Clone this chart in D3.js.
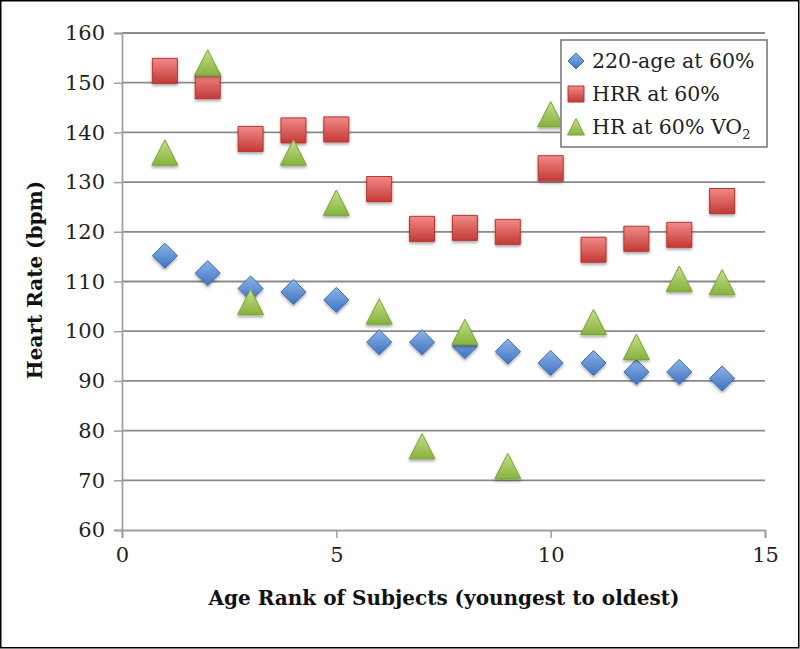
<!DOCTYPE html>
<html><head><meta charset="utf-8">
<script src="https://cdn.jsdelivr.net/npm/d3@7"></script>
<style>
html,body{margin:0;padding:0;background:#fff;}
svg{display:block;}
text{font-family:"DejaVu Serif","Liberation Serif",serif;}
</style></head>
<body>
<svg id="chart" width="800" height="649"></svg>
<script>
const ranks = [1,2,3,4,5,6,7,8,9,10,11,12,13,14];
const ageFormula = [115.2,111.7,108.6,107.9,106.3,97.8,97.8,97.0,95.9,93.6,93.6,91.8,91.8,90.5];
const hrr = [152.4,149.3,138.7,140.4,140.6,128.6,120.6,120.8,120.0,132.8,116.4,118.6,119.4,126.2];
const vo2 = [135.9,154.0,105.8,135.9,125.8,103.9,76.8,99.8,72.8,143.6,101.8,96.8,110.5,109.8];
const xTicks = [0,5,10,15];
const yTicks = [60,70,80,90,100,110,120,130,140,150,160];
const seriesNames = ["220-age at 60%","HRR at 60%","HR at 60% VO"];

const svg = d3.select("#chart");
const W = 800, H = 649;
const m = {left:122, right:765, top:33, bottom:530};

svg.append("rect").attr("x",0.75).attr("y",0.75).attr("width",W-2).attr("height",H-2)
  .attr("fill","#fff").attr("stroke","#000").attr("stroke-width",1.5);

const defs = svg.append("defs");
function grad(id, c1, c2){
  const g = defs.append("linearGradient").attr("id",id).attr("x1",0).attr("y1",0).attr("x2",0).attr("y2",1);
  g.append("stop").attr("offset","0%").attr("stop-color",c1);
  g.append("stop").attr("offset","100%").attr("stop-color",c2);
}
grad("gBlue","#8db3e8","#3f74c0");
grad("gRed","#f08a87","#c43a36");
grad("gGreen","#c4e08a","#86b23c");
const f = defs.append("filter").attr("id","shadow").attr("x","-50%").attr("y","-50%").attr("width","200%").attr("height","200%");
f.append("feDropShadow").attr("dx",0).attr("dy",2).attr("stdDeviation",1.5).attr("flood-color","#000").attr("flood-opacity",0.35);

const x = d3.scaleLinear().domain([0,15]).range([m.left,m.right]);
const y = d3.scaleLinear().domain([60,160]).range([m.bottom,m.top]);

// gridlines
svg.append("g").selectAll("line").data(yTicks.filter(d=>d>60)).join("line")
  .attr("x1",m.left).attr("x2",m.right).attr("y1",d=>y(d)).attr("y2",d=>y(d))
  .attr("stroke","#8a8a8a").attr("stroke-width",1.8);

// y axis
const yAxis = svg.append("g").attr("transform",`translate(${m.left},0)`)
  .call(d3.axisLeft(y).tickValues(yTicks).tickSize(8).tickPadding(9));
yAxis.select(".domain").attr("stroke","#a0a0a0").attr("stroke-width",1.8);
yAxis.selectAll(".tick line").attr("stroke","#a0a0a0").attr("stroke-width",1.5);
yAxis.selectAll("text").attr("font-size",21).attr("fill","#222").style("font-family","DejaVu Serif");

// x axis
const xAxis = svg.append("g").attr("transform",`translate(0,${m.bottom})`)
  .call(d3.axisBottom(x).tickValues(xTicks).tickSize(8).tickPadding(9));
xAxis.select(".domain").attr("stroke","#a0a0a0").attr("stroke-width",1.8);
xAxis.selectAll(".tick line").attr("stroke","#a0a0a0").attr("stroke-width",1.5);
xAxis.selectAll("text").attr("font-size",21).attr("fill","#222").style("font-family","DejaVu Serif");

// titles
svg.append("text").attr("x",444).attr("y",605).attr("text-anchor","middle")
  .attr("font-size",20).attr("font-weight","bold").attr("fill","#111")
  .text("Age Rank of Subjects (youngest to oldest)");
svg.append("text").attr("transform","translate(42,280) rotate(-90)").attr("text-anchor","middle")
  .attr("font-size",20).attr("font-weight","bold").attr("fill","#111")
  .text("Heart Rate (bpm)");

// markers
const diamond = s => `M0,${-s}L${s},0L0,${s}L${-s},0Z`;
const square = s => `M${-s},${-s}H${s}V${s}H${-s}Z`;
const tri = s => `M0,${-s}L${s},${s*0.95}L${-s},${s*0.95}Z`;

function plot(vals, pathFn, fill, stroke){
  svg.append("g").selectAll("path").data(ranks.map((r,i)=>[r,vals[i]])).join("path")
    .attr("transform",d=>`translate(${x(d[0])},${y(d[1])})`)
    .attr("d",pathFn).attr("fill",fill).attr("stroke",stroke).attr("stroke-width",1)
    .attr("filter","url(#shadow)");
}
plot(ageFormula, ()=>diamond(12.5), "url(#gBlue)", "#3a6db5");
plot(hrr, ()=>square(12.5), "url(#gRed)", "#b8322f");
plot(vo2, ()=>tri(13), "url(#gGreen)", "#7aa535");

// legend
const lg = svg.append("g");
lg.append("rect").attr("x",561).attr("y",40).attr("width",206).attr("height",107)
  .attr("fill","#fff").attr("stroke","#8a8a8a").attr("stroke-width",1.8);
const ly = [61,94,127];
lg.append("path").attr("transform",`translate(576,${ly[0]})`).attr("d",diamond(8)).attr("fill","url(#gBlue)").attr("stroke","#3a6db5");
lg.append("path").attr("transform",`translate(576,${ly[1]})`).attr("d",square(8)).attr("fill","url(#gRed)").attr("stroke","#b8322f");
lg.append("path").attr("transform",`translate(576,${ly[2]})`).attr("d",tri(8.5)).attr("fill","url(#gGreen)").attr("stroke","#7aa535");
seriesNames.forEach((n,i)=>{
  const t = lg.append("text").attr("x",592).attr("y",ly[i]+7).attr("font-size",20.5).attr("fill","#222").text(n);
  if(i===2) t.append("tspan").attr("font-size",13).attr("dy",5).text("2");
});
</script>
</body></html>
